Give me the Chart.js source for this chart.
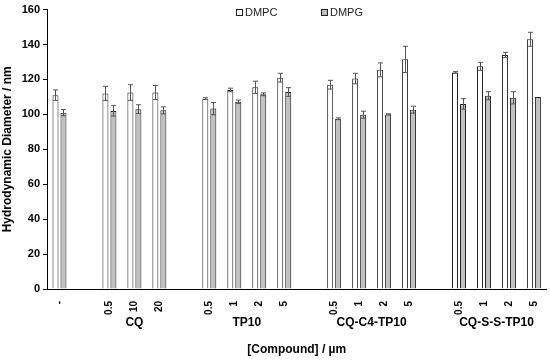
<!DOCTYPE html>
<html>
<head>
<meta charset="utf-8">
<script src="https://cdn.jsdelivr.net/npm/chart.js@4.4.0/dist/chart.umd.min.js"></script>
<style>
  body { margin: 0; background: #fff; }
  #wrap { width: 550px; height: 361px; }
</style>
</head>
<body>
<div id="wrap"><canvas id="myChart"></canvas></div>
<script>
// concentrations, with empty slots between the compound groups
var labels = ['-', '', '0.5', '10', '20', '', '0.5', '1', '2', '5', '', '0.5', '1', '2', '5', '', '0.5', '1', '2', '5'];
var groups = ['CQ', 'TP10', 'CQ-C4-TP10', 'CQ-S-S-TP10'];
var groupCenters = [3, 7.5, 12.5, 17.5];

var dmpc = [111, null, 112, 112.5, 112.5, null, 109, 114, 115.5, 121, null, 117, 120.5, 125.5, 131.5, null, 124, 127.5, 134, 143];
var dmpcErr = [3, null, 4, 4.5, 4, null, 0.5, 1, 3.5, 2.5, null, 2.5, 3, 4, 7.5, null, 0.5, 2.3, 1.5, 4];
var dmpg = [101, null, 102, 103, 102.3, null, 103.3, 107.2, 111.5, 112.8, null, 97.5, 99.8, 100, 102.7, null, 106, 110.7, 109.5, 110];
var dmpgErr = [1.8, null, 3, 2.5, 2, null, 3.5, 1, 0.8, 2.5, null, 0.5, 2, 0.3, 2, null, 3, 2.3, 3.5, 0];

var yTicks = [0, 20, 40, 60, 80, 100, 120, 140, 160];

Chart.defaults.font.family = '"Liberation Sans", Arial, sans-serif';
Chart.defaults.color = '#000';

var errorBars = {
    id: 'errorBars',
    afterDatasetsDraw: function(chart) {
        var ctx = chart.ctx;
        var y = chart.scales.y;
        ctx.save();
        ctx.strokeStyle = '#555';
        ctx.lineWidth = 1;
        chart.data.datasets.forEach(function(ds, i) {
            var meta = chart.getDatasetMeta(i);
            meta.data.forEach(function(bar, j) {
                var v = ds.data[j], e = ds.errors[j];
                if (v == null || !e) return;
                var x = Math.round(bar.x) + 0.5;
                var top = y.getPixelForValue(v + e);
                var bot = y.getPixelForValue(v - e);
                ctx.beginPath();
                ctx.moveTo(x, top);
                ctx.lineTo(x, bot);
                ctx.moveTo(x - 2.5, top);
                ctx.lineTo(x + 2.5, top);
                ctx.moveTo(x - 2.5, bot);
                ctx.lineTo(x + 2.5, bot);
                ctx.stroke();
            });
        });
        ctx.restore();
    }
};

// group names under the tick labels, plus the small legend inside the plot
var extras = {
    id: 'extras',
    afterDraw: function(chart) {
        var ctx = chart.ctx;
        var x = chart.scales.x;
        ctx.save();
        ctx.font = 'bold 12px "Liberation Sans", Arial, sans-serif';
        ctx.fillStyle = '#000';
        ctx.textAlign = 'center';
        ctx.textBaseline = 'middle';
        groups.forEach(function(g, i) {
            ctx.fillText(g, x.getPixelForValue(groupCenters[i]), 323);
        });

        var legendX = [236, 321];
        ctx.font = '11px "Liberation Sans", Arial, sans-serif';
        ctx.textAlign = 'left';
        chart.data.datasets.forEach(function(ds, i) {
            var lx = legendX[i];
            ctx.fillStyle = ds.backgroundColor;
            ctx.fillRect(lx + 0.5, 9.5, 6, 6);
            ctx.strokeStyle = ds.borderColor;
            ctx.lineWidth = 1;
            ctx.strokeRect(lx + 0.5, 9.5, 6, 6);
            ctx.fillStyle = '#222';
            ctx.fillText(ds.label, lx + 9, 13);
        });
        ctx.restore();
    }
};

var CHART = document.getElementById('myChart');
var myChart = new Chart(CHART, {
    type: 'bar',
    data: {
        labels: labels,
        datasets: [{
            label: 'DMPC',
            data: dmpc,
            errors: dmpcErr,
            backgroundColor: '#ffffff',
            borderColor: '#222',
            borderWidth: 1
        }, {
            label: 'DMPG',
            data: dmpg,
            errors: dmpgErr,
            backgroundColor: '#c0c0c0',
            borderColor: '#222',
            borderWidth: 1
        }]
    },
    plugins: [errorBars, extras],
    options: {
        responsive: true,
        maintainAspectRatio: false,
        animation: false,
        categoryPercentage: 0.64,
        barPercentage: 0.75,
        layout: { padding: { top: 3, right: 3 } },
        plugins: {
            legend: { display: false },
            tooltip: { enabled: false }
        },
        scales: {
            x: {
                grid: { display: false },
                border: { display: true, color: '#000', width: 1 },
                ticks: {
                    autoSkip: false,
                    minRotation: 90,
                    maxRotation: 90,
                    padding: 4,
                    font: { size: 10, weight: 'bold' }
                },
                title: {
                    display: true,
                    text: '[Compound] / µm',
                    font: { size: 12, weight: 'bold' },
                    padding: { top: 4, bottom: 4 }
                },
                afterFit: function(scale) { scale.height = 72; }
            },
            y: {
                min: 0,
                max: 160,
                afterBuildTicks: function(scale) {
                    scale.ticks = yTicks.map(function(v) { return { value: v }; });
                },
                grid: { drawOnChartArea: false, tickLength: 4, color: '#000' },
                border: { display: true, color: '#000', width: 1 },
                ticks: {
                    padding: 3,
                    font: { size: 11, weight: 'bold' }
                },
                title: {
                    display: true,
                    text: 'Hydrodynamic Diameter / nm',
                    font: { size: 12, weight: 'bold' },
                    padding: { top: 0, bottom: 4 }
                },
                afterFit: function(scale) { scale.width = 47; }
            }
        }
    }
});
</script>
</body>
</html>
